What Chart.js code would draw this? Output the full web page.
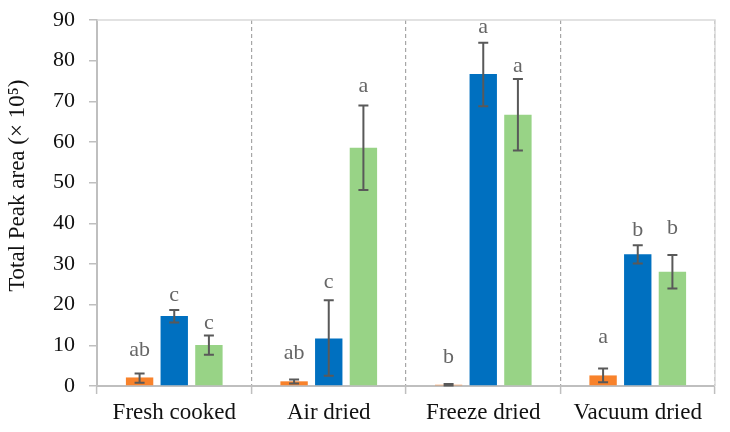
<!DOCTYPE html>
<html>
<head>
<meta charset="utf-8">
<script src="https://cdn.jsdelivr.net/npm/chart.js@4"></script>
<style>
  html, body { margin: 0; padding: 0; background: #fff; }
  #wrap { width: 730px; height: 432px; }
</style>
</head>
<body>
<div id="wrap"><canvas id="chart"></canvas></div>
<script>
const categories = ["Fresh cooked", "Air dried", "Freeze dried", "Vacuum dried"];

const orangeValues = [2.1, 1.15, 0.3, 2.6];
const orangeLow = [0.8, 0.6, 0.1, 0.9];
const orangeHigh = [3.1, 1.6, 0.5, 4.3];
const orangeLetters = ["ab", "ab", "b", "a"];
const orangeLetterY = [8.8, 8.1, 7.1, 12.0];

const blueValues = [17.2, 11.7, 76.7, 32.4];
const blueLow = [15.6, 2.5, 68.8, 30.1];
const blueHigh = [18.7, 21.1, 84.4, 34.6];
const blueLetters = ["c", "c", "a", "b"];
const blueLetterY = [22.4, 25.5, 88.3, 38.3];

const greenValues = [10.1, 58.6, 66.7, 28.1];
const greenLow = [7.7, 48.2, 57.9, 24.0];
const greenHigh = [12.4, 69.0, 75.5, 32.2];
const greenLetters = ["c", "a", "a", "b"];
const greenLetterY = [15.4, 73.7, 78.7, 38.8];

const yTicks = [0, 10, 20, 30, 40, 50, 60, 70, 80, 90];

const FONT = "'Liberation Serif', 'DejaVu Serif', serif";

// error bars + significance letters
const errorBarPlugin = {
    id: "errorBars",
    afterDatasetsDraw(chart) {
        const ctx = chart.ctx;
        const y = chart.scales.y;
        chart.data.datasets.forEach((ds, di) => {
            const meta = chart.getDatasetMeta(di);
            meta.data.forEach((bar, i) => {
                const x = bar.x;
                const yLo = y.getPixelForValue(ds.errLow[i]);
                const yHi = y.getPixelForValue(ds.errHigh[i]);
                ctx.save();
                ctx.strokeStyle = "#595959";
                ctx.lineWidth = 2;
                ctx.beginPath();
                ctx.moveTo(x, yLo);
                ctx.lineTo(x, yHi);
                ctx.moveTo(x - 5, yLo);
                ctx.lineTo(x + 5, yLo);
                ctx.moveTo(x - 5, yHi);
                ctx.lineTo(x + 5, yHi);
                ctx.stroke();

                ctx.fillStyle = "#666666";
                ctx.font = "22px " + FONT;
                ctx.textAlign = "center";
                ctx.textBaseline = "middle";
                ctx.fillText(ds.letters[i], x, y.getPixelForValue(ds.letterY[i]));
                ctx.restore();
            });
        });
    }
};

// light frame on the top and right of the plot
const framePlugin = {
    id: "frame",
    beforeDatasetsDraw(chart) {
        const { ctx, chartArea: a } = chart;
        ctx.save();
        ctx.strokeStyle = "#d9d9d9";
        ctx.lineWidth = 1.5;
        ctx.beginPath();
        ctx.moveTo(a.left, a.top);
        ctx.lineTo(a.right, a.top);
        ctx.lineTo(a.right, a.bottom);
        ctx.stroke();
        ctx.restore();
    }
};

new Chart(document.getElementById("chart"), {
    type: "bar",
    data: {
        labels: categories,
        datasets: [
            { label: "Series 1", data: orangeValues, backgroundColor: "#F8822B", errLow: orangeLow, errHigh: orangeHigh, letters: orangeLetters, letterY: orangeLetterY },
            { label: "Series 2", data: blueValues, backgroundColor: "#0070C0", errLow: blueLow, errHigh: blueHigh, letters: blueLetters, letterY: blueLetterY },
            { label: "Series 3", data: greenValues, backgroundColor: "#98D386", errLow: greenLow, errHigh: greenHigh, letters: greenLetters, letterY: greenLetterY }
        ]
    },
    options: {
        responsive: true,
        maintainAspectRatio: false,
        animation: false,
        layout: { padding: { left: 0, right: 15, top: 20, bottom: 0 } },
        datasets: { bar: { categoryPercentage: 0.673, barPercentage: 0.79 } },
        plugins: {
            legend: { display: false },
            tooltip: { enabled: false }
        },
        scales: {
            x: {
                offset: true,
                grid: {
                    offset: true,
                    drawOnChartArea: true,
                    color: (c) => (c.index === 0 || c.index === categories.length) ? "rgba(0,0,0,0)" : "#a6a6a6",
                    lineWidth: 1.2,
                    tickColor: "#bfbfbf",
                    tickLength: 8,
                    tickWidth: 1.5
                },
                border: { display: true, color: "#bfbfbf", width: 2, dash: [4, 3] },
                ticks: { color: "#111", font: { family: FONT, size: 23 }, padding: 5 },
                afterFit: (s) => { s.height = 46; s.paddingLeft = 0; s.paddingRight = 0; }
            },
            y: {
                min: 0,
                max: 90,
                afterBuildTicks: (s) => { s.ticks = yTicks.map(v => ({ value: v })); },
                grid: {
                    drawOnChartArea: false,
                    color: "#bfbfbf",
                    tickLength: 8,
                    lineWidth: 1.5
                },
                border: { display: true, color: "#bfbfbf", width: 2 },
                ticks: { color: "#111", font: { family: FONT, size: 22 }, padding: 14 },
                title: {
                    display: true,
                    text: "      Total Peak area (× 10⁵)",
                    color: "#111",
                    font: { family: FONT, size: 23 },
                    padding: { top: 4, bottom: 0 }
                },
                afterFit: (s) => { s.width = 97; s.paddingTop = 0; s.paddingBottom = 0; }
            }
        }
    },
    plugins: [framePlugin, errorBarPlugin]
});
</script>
</body>
</html>
